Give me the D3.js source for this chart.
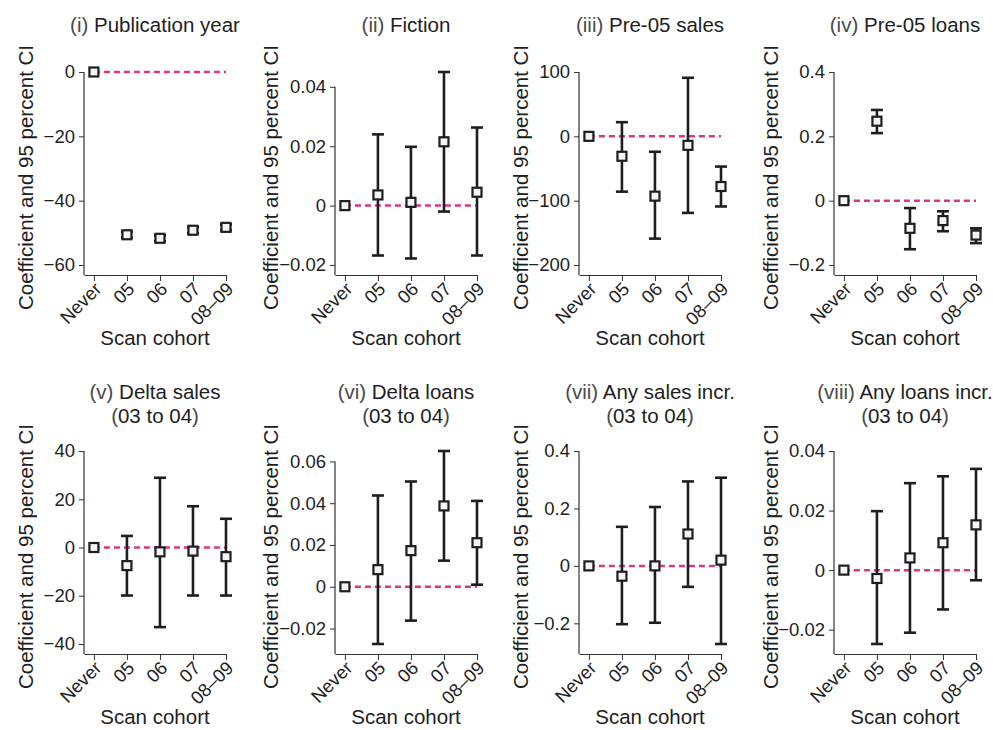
<!DOCTYPE html>
<html>
<head>
<meta charset="utf-8">
<script src="https://cdn.jsdelivr.net/npm/d3@7"></script>
<style>
    body { margin: 0; background: #fff; }
    text { font-family: "Liberation Sans", Arial, Helvetica, sans-serif; }
</style>
</head>
<body>
<div id="chart"></div>
<script>
// scan cohorts on the x axis
const cohorts = ["Never", "05", "06", "07", "08–09"]

// panel titles, numeral part kept apart (drawn grey)
const numerals = ["(i)", "(ii)", "(iii)", "(iv)", "(v)", "(vi)", "(vii)", "(viii)"]
const titles = ["Publication year", "Fiction", "Pre-05 sales", "Pre-05 loans",
    "Delta sales", "Delta loans", "Any sales incr.", "Any loans incr."]
const subtitles = [null, null, null, null, "03 to 04", "03 to 04", "03 to 04", "03 to 04"]

// coefficient estimates, lower and upper 95% CI (Never is the reference, no CI)
const pubYearEst = [0, -50.6, -51.7, -49.2, -48.3]
const pubYearLo = [null, -51.5, -52.6, -50.1, -49.2]
const pubYearHi = [null, -49.7, -50.8, -48.3, -47.4]

const fictionEst = [0, 0.0036, 0.0011, 0.0215, 0.0045]
const fictionLo = [null, -0.0168, -0.0178, -0.002, -0.0168]
const fictionHi = [null, 0.024, 0.0198, 0.045, 0.0263]

const pre05SalesEst = [0, -31, -93, -14, -78]
const pre05SalesLo = [null, -86, -159, -119, -109]
const pre05SalesHi = [null, 22, -24, 91, -47]

const pre05LoansEst = [0, 0.247, -0.086, -0.062, -0.107]
const pre05LoansLo = [null, 0.21, -0.151, -0.095, -0.132]
const pre05LoansHi = [null, 0.282, -0.023, -0.033, -0.086]

const deltaSalesEst = [0, -7.5, -1.8, -1.5, -3.8]
const deltaSalesLo = [null, -19.9, -33, -19.9, -19.9]
const deltaSalesHi = [null, 4.8, 28.9, 17.1, 11.9]

const deltaLoansEst = [0, 0.0082, 0.0173, 0.0387, 0.0211]
const deltaLoansLo = [null, -0.0274, -0.0162, 0.0125, 0.001]
const deltaLoansHi = [null, 0.0437, 0.0504, 0.065, 0.0411]

const anySalesEst = [0, -0.036, 0.0, 0.111, 0.02]
const anySalesLo = [null, -0.203, -0.198, -0.073, -0.272]
const anySalesHi = [null, 0.136, 0.205, 0.294, 0.307]

const anyLoansEst = [0, -0.0028, 0.0041, 0.0092, 0.0152]
const anyLoansLo = [null, -0.0248, -0.021, -0.0132, -0.0034]
const anyLoansHi = [null, 0.0198, 0.0292, 0.0315, 0.034]

// y tick values per panel
const ticks1 = [0, -20, -40, -60]
const ticks2 = [0.04, 0.02, 0, -0.02]
const ticks3 = [100, 0, -100, -200]
const ticks4 = [0.4, 0.2, 0, -0.2]
const ticks5 = [40, 20, 0, -20, -40]
const ticks6 = [0.06, 0.04, 0.02, 0, -0.02]
const ticks7 = [0.4, 0.2, 0, -0.2]
const ticks8 = [0.04, 0.02, 0, -0.02]

let panels = [
    {est: pubYearEst, lo: pubYearLo, hi: pubYearHi, ticks: ticks1},
    {est: fictionEst, lo: fictionLo, hi: fictionHi, ticks: ticks2},
    {est: pre05SalesEst, lo: pre05SalesLo, hi: pre05SalesHi, ticks: ticks3},
    {est: pre05LoansEst, lo: pre05LoansLo, hi: pre05LoansHi, ticks: ticks4},
    {est: deltaSalesEst, lo: deltaSalesLo, hi: deltaSalesHi, ticks: ticks5},
    {est: deltaLoansEst, lo: deltaLoansLo, hi: deltaLoansHi, ticks: ticks6},
    {est: anySalesEst, lo: anySalesLo, hi: anySalesHi, ticks: ticks7},
    {est: anyLoansEst, lo: anyLoansLo, hi: anyLoansHi, ticks: ticks8},
]

// layout
const W = 993, H = 730
const col_left = [84, 335, 579, 834]     // y axis position per column
const label_x = [33, 278, 528, 778]      // y title baseline per column
const row_top = [72, 451]
const plot_w = 142, plot_h = 203
const pad_px = 10

const ink = "#1e1e1e"
const axis_col = "#333"
const ref_col = "#dc3682"

let svg = d3.select("#chart").append("svg")
    .attr("width", W)
    .attr("height", H)

svg.append("rect").attr("width", W).attr("height", H).attr("fill", "#fff")

let fmt = d3.format("~g")

panels.forEach((p, i) => {
    let row = Math.floor(i / 4), col = i % 4
    let left = col_left[col], top = row_top[row]

    let x = d3.scaleLinear().domain([-0.3, 4]).range([0, plot_w])

    let vals = p.est.concat(p.lo, p.hi, p.ticks).filter(d => d != null)
    let vmax = d3.max(vals), vmin = d3.min(vals)
    let pad = pad_px * (vmax - vmin) / (plot_h - pad_px)
    let y = d3.scaleLinear().domain([vmin - pad, vmax]).range([plot_h, 0])

    let g = svg.append("g")
        .attr("transform", `translate(${left},${top})`)

    // y axis: line only from top tick down
    let yAxis = g.append("g")
        .call(d3.axisLeft(y).tickValues(p.ticks).tickSize(5).tickPadding(4).tickFormat(fmt))
    yAxis.select(".domain").remove()
    yAxis.selectAll(".tick line").attr("stroke", axis_col)
    yAxis.selectAll(".tick text")
        .attr("fill", ink)
        .style("font-size", "18.5px")
        .style("font-family", '"Liberation Sans", Arial, sans-serif')
    g.append("line")
        .attr("x1", 0).attr("x2", 0)
        .attr("y1", y(d3.max(p.ticks))).attr("y2", plot_h)
        .attr("stroke", axis_col).attr("stroke-width", 1.2)

    // x axis
    let xAxis = g.append("g")
        .attr("transform", `translate(0,${plot_h})`)
        .call(d3.axisBottom(x).tickValues(d3.range(cohorts.length)).tickSize(6).tickSizeOuter(0)
            .tickFormat(d => cohorts[d]))
    xAxis.select(".domain").attr("stroke", axis_col).attr("stroke-width", 1.2)
    xAxis.selectAll(".tick line").attr("stroke", axis_col)
    xAxis.selectAll(".tick text")
        .attr("fill", ink)
        .style("font-size", "18.5px")
        .style("font-family", '"Liberation Sans", Arial, sans-serif')
        .attr("text-anchor", "end")
        .attr("y", 0).attr("dy", "0.62em")
        .attr("transform", "translate(0,7) rotate(-45)")

    // reference line at zero
    g.append("line")
        .attr("x1", x(0)).attr("x2", x(cohorts.length - 1))
        .attr("y1", y(0)).attr("y2", y(0))
        .attr("stroke", ref_col)
        .attr("stroke-width", 2.5)
        .attr("stroke-dasharray", "6,4")

    let rows = cohorts.map((c, k) => ({k: k, est: p.est[k], lo: p.lo[k], hi: p.hi[k]}))
    let withCI = rows.filter(d => d.lo != null)

    // error bars
    let bars = g.append("g")
        .attr("stroke", ink)
        .attr("stroke-width", 2.6)
    bars.selectAll(".ci")
        .data(withCI)
        .enter().append("line")
        .attr("x1", d => x(d.k)).attr("x2", d => x(d.k))
        .attr("y1", d => y(d.lo)).attr("y2", d => y(d.hi))
    bars.selectAll(".cap-hi")
        .data(withCI)
        .enter().append("line")
        .attr("x1", d => x(d.k) - 6).attr("x2", d => x(d.k) + 6)
        .attr("y1", d => y(d.hi)).attr("y2", d => y(d.hi))
    bars.selectAll(".cap-lo")
        .data(withCI)
        .enter().append("line")
        .attr("x1", d => x(d.k) - 6).attr("x2", d => x(d.k) + 6)
        .attr("y1", d => y(d.lo)).attr("y2", d => y(d.lo))

    // hollow square markers
    g.selectAll(".pt")
        .data(rows)
        .enter().append("rect")
        .attr("x", d => x(d.k) - 4.5)
        .attr("y", d => y(d.est) - 4.5)
        .attr("width", 9).attr("height", 9)
        .attr("fill", "#f4f4f4")
        .attr("stroke", ink)
        .attr("stroke-width", 2.2)

    // title
    let cx = plot_w / 2
    let title = g.append("text")
        .attr("x", cx)
        .attr("y", subtitles[i] ? -52 : -40)
        .attr("text-anchor", "middle")
        .style("font-size", "20.5px")
        .attr("fill", ink)
    title.append("tspan").attr("fill", "#4a4a4a").text(numerals[i])
    title.append("tspan").text(" " + titles[i])
    if (subtitles[i]) {
        let sub = g.append("text")
            .attr("x", cx)
            .attr("y", -28)
            .attr("text-anchor", "middle")
            .style("font-size", "20.5px")
            .attr("fill", ink)
        sub.append("tspan").attr("fill", "#4a4a4a").text("(")
        sub.append("tspan").text(subtitles[i])
        sub.append("tspan").attr("fill", "#4a4a4a").text(")")
    }

    // axis titles
    g.append("text")
        .attr("x", cx)
        .attr("y", plot_h + 70)
        .attr("text-anchor", "middle")
        .style("font-size", "20.5px")
        .attr("fill", ink)
        .text("Scan cohort")

    svg.append("text")
        .attr("transform", `translate(${label_x[col]},${top + plot_h / 2 + 4}) rotate(-90)`)
        .attr("text-anchor", "middle")
        .style("font-size", "20.5px")
        .attr("fill", ink)
        .text("Coefficient and 95 percent CI")
})
</script>
</body>
</html>
